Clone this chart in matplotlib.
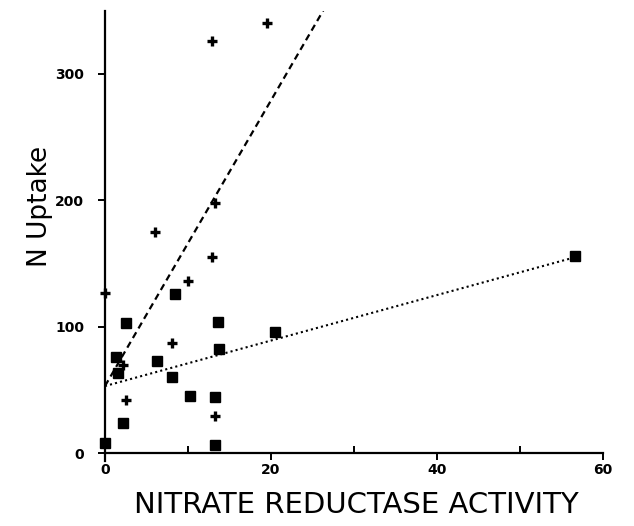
import numpy as np
import matplotlib.pyplot as plt

# nitrate reductase activity vs N uptake, two groups
plus_x = [19.5, 12.9, 13.3, 6.0, 12.9, 10.0, 0.0, 8.1, 2.2, 2.5, 13.3]
plus_y = [340, 326, 198, 175, 155, 136, 127, 87, 70, 42, 29]

sq_x = [56.6, 8.4, 2.5, 13.6, 20.5, 13.7, 1.3, 6.3, 1.6, 8.1, 10.2, 13.3, 2.2, 0.0, 13.3]
sq_y = [156, 126, 103, 104, 96, 82, 76, 73, 63, 60, 45, 44, 24, 8, 6]

# fitted lines (intercept, slope, x end)
plus_fit = (53, 11.3, 26.4)
sq_fit = (53, 1.8, 56.6)

fig = plt.figure(figsize=(6.34, 5.26), dpi=100)
ax = fig.add_axes([0.159, 0.1243, 0.805, 0.8552])

ax.plot(plus_x, plus_y, linestyle='none', marker='+', markersize=6.5,
        markeredgewidth=2.4, color='black', clip_on=False)
ax.plot(sq_x, sq_y, linestyle='none', marker='s', markersize=7,
        color='black', clip_on=False)

xs = np.array([0, plus_fit[2]])
ax.plot(xs, plus_fit[0] + plus_fit[1] * xs, linestyle=(0, (3, 2)),
        color='black', linewidth=1.6)
xs = np.array([0, sq_fit[2]])
ax.plot(xs, sq_fit[0] + sq_fit[1] * xs, linestyle=(0, (1, 1.5)),
        color='black', linewidth=1.5)

ax.set_xlim(-0.5, 61)
ax.set_ylim(-6, 350)
ax.spines['top'].set_visible(False)
ax.spines['right'].set_visible(False)
ax.spines['left'].set_position(('data', 0))
ax.spines['bottom'].set_position(('data', 0))
ax.spines['left'].set_bounds(-6, 350)
ax.spines['bottom'].set_bounds(0, 60)
ax.spines['left'].set_linewidth(1.6)
ax.spines['bottom'].set_linewidth(1.6)

ax.set_xticks([0, 20, 40, 60])
ax.set_xticks([10, 30, 50], minor=True)
ax.set_yticks([0, 100, 200, 300])
ax.tick_params(axis='both', which='major', length=5, width=1.4,
               direction='out', labelsize=10)
ax.tick_params(axis='y', which='major', pad=10)
ax.tick_params(axis='x', which='major', pad=2)
ax.tick_params(axis='x', which='minor', length=5, width=1.4, direction='in')
for lab in ax.get_xticklabels() + ax.get_yticklabels():
    lab.set_fontweight('bold')

ax.set_xlabel("NITRATE REDUCTASE ACTIVITY", fontsize=21, labelpad=10)
ax.set_ylabel("N Uptake", fontsize=19)
ax.yaxis.set_label_coords(-0.094, 0.564)

plt.savefig("out.png", dpi=100)
